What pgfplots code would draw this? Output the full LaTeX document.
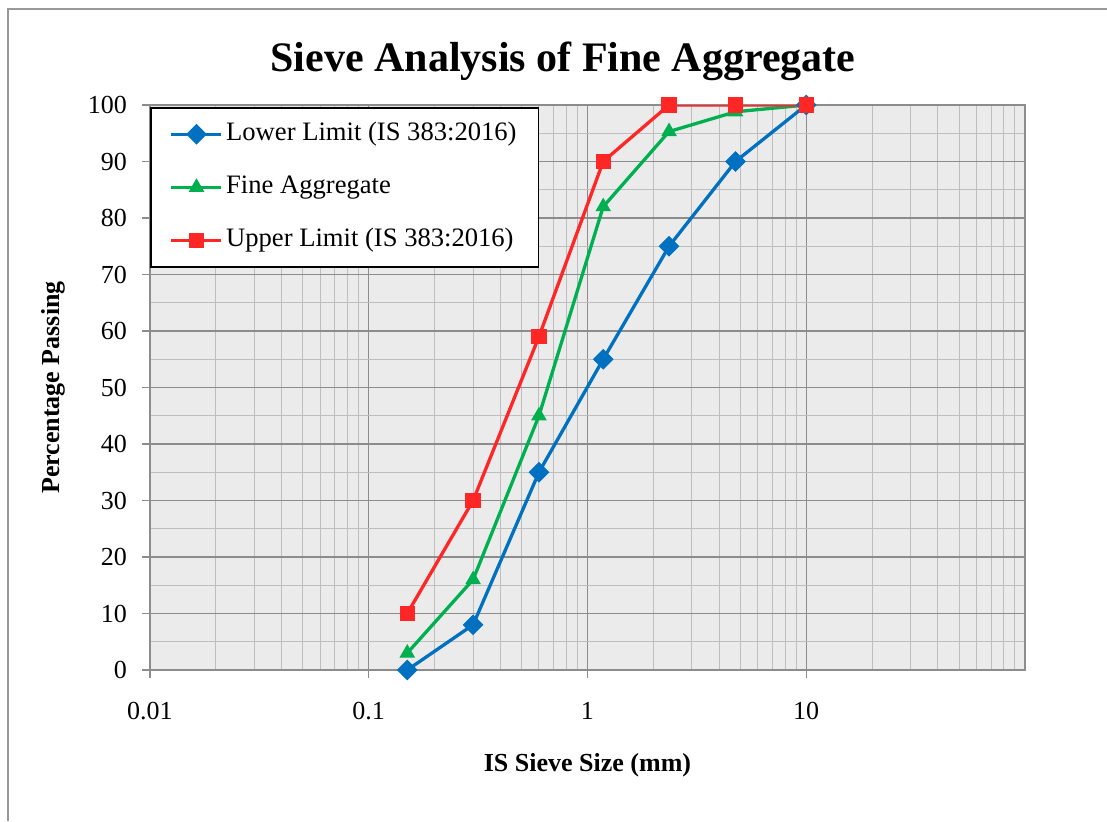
\documentclass[border=0pt]{standalone}
\usepackage{pgfplots}
\pgfplotsset{compat=1.18}
\usepackage{fontspec}
\setmainfont{Liberation Serif}

\definecolor{lowc}{HTML}{0070C0}
\definecolor{finec}{HTML}{00B050}
\definecolor{upc}{HTML}{FF2626}
\definecolor{plotbg}{HTML}{EBEBEB}
\definecolor{majgrid}{HTML}{8C8C8C}
\definecolor{mingrid}{HTML}{BEBEBE}

\begin{document}
\begin{tikzpicture}
\useasboundingbox (0,0) rectangle (553.5pt,410.5pt);
% chart frame (only top and left edge visible)
\draw[color=gray!80, line width=0.9pt] (4pt,0) -- (4pt,406pt) -- (553.5pt,406pt);
\node[anchor=base, font=\fontsize{21}{25}\selectfont\bfseries] at (281.5pt,374.5pt)
  {Sieve Analysis of Fine Aggregate};

\begin{axis}[
    at={(75pt,75.5pt)}, anchor=south west,
    scale only axis,
    width=437.5pt, height=282.5pt,
    xmode=log,
    xmin=0.01, xmax=100,
    ymin=0, ymax=100,
    xtick={0.01,0.1,1,10},
    xticklabels={0.01,0.1,1,10},
    minor xtick={0.02,0.03,0.04,0.05,0.06,0.07,0.08,0.09,
                 0.2,0.3,0.4,0.5,0.6,0.7,0.8,0.9,
                 2,3,4,5,6,7,8,9,
                 20,30,40,50,60,70,80,90},
    ytick={0,10,...,100},
    minor ytick={5,15,...,95},
    grid=both,
    major grid style={majgrid, line width=0.65pt},
    minor grid style={mingrid, line width=0.5pt},
    tick pos=left,
    tick align=outside,
    major tick length=4pt,
    minor tick length=0pt,
    tick style={majgrid, line width=0.65pt},
    axis line style={majgrid, line width=0.65pt},
    axis background/.style={fill=plotbg},
    /pgf/number format/assume math mode=true,
    ticklabel style={font=\fontsize{13}{15}\selectfont},
    yticklabel style={xshift=-4pt},
    xticklabel style={yshift=-8.5pt},
    xlabel={IS Sieve Size (mm)},
    ylabel={Percentage Passing},
    label style={font=\fontsize{13}{15}\selectfont\bfseries},
    xlabel style={at={(axis description cs:0.5,0)}, anchor=base, yshift=-50.5pt},
    ylabel style={at={(axis description cs:0,0.5)}, anchor=center, yshift=48.5pt},
    legend cell align=left,
    legend style={at={(0,1)}, anchor=north west, yshift=-1pt,
        fill=white, draw=black, line width=0.8pt,
        font=\fontsize{13.3}{15}\selectfont,
        inner xsep=9.5pt, inner ysep=7pt, row sep=14pt,
        nodes={inner xsep=1.5pt, inner ysep=0pt, text height=9.5pt, text depth=3pt}},
    legend image code/.code={
        \draw[line width=1.7pt, mark repeat=2, mark phase=2]
        plot coordinates {(0pt,0pt) (12.5pt,0pt) (25pt,0pt)};},
]

\addplot[lowc, line width=1.65pt, mark=square*, mark size=3.4pt,
    mark options={rotate=45, line width=0.5pt, fill=lowc}]
  coordinates {(0.15,0) (0.3,8) (0.6,35) (1.18,55) (2.36,75) (4.75,90) (10,100)};
\addlegendentry{Lower Limit (IS 383:2016)}

\addplot[finec, line width=1.65pt, mark=triangle*, mark size=4pt,
    mark options={line width=0.5pt, fill=finec}]
  coordinates {(0.15,3) (0.3,16) (0.6,45) (1.18,82) (2.36,95.3) (4.75,98.8) (10,100)};
\addlegendentry{Fine Aggregate}

\addplot[upc, line width=1.65pt, mark=square*, mark size=3.6pt,
    mark options={line width=0.5pt, fill=upc}]
  coordinates {(0.15,10) (0.3,30) (0.6,59) (1.18,90) (2.36,100) (4.75,100) (10,100)};
\addlegendentry{Upper Limit (IS 383:2016)}

\end{axis}
\end{tikzpicture}
\end{document}
